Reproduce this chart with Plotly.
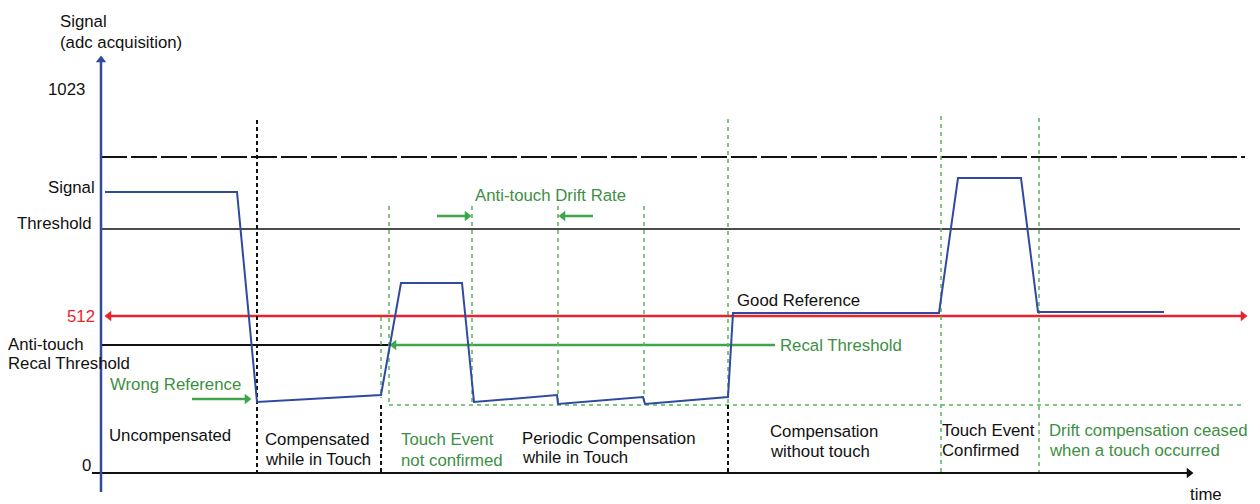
import plotly.graph_objects as go

# ---------------- data (diagram units = picture pixels, y downward) ----------------
sig_x = [105, 237, 257, 381, 401, 462, 474, 557, 558, 643, 645, 728, 733, 939, 958, 1021, 1038, 1164]
sig_y = [192, 192, 402, 395, 283, 283, 402, 395, 404, 397, 404, 397, 313, 313, 178, 178, 312, 312]

axis_x0 = 101          # signal axis position
axis_y0 = 473          # time axis (signal = 0)
level_max = 157        # dashed upper limit
level_threshold = 229  # touch threshold
level_512 = 316        # mid reference (512)
level_recal = 345      # anti-touch recal threshold
level_floor = 405      # wrong reference floor (green dashed)

# phase boundaries
bounds_x = [257, 381, 381, 389, 472, 558, 644, 728, 728, 941, 1039]
bounds_top = [120, 405, 317, 206, 206, 206, 206, 119, 405, 116, 118]
bounds_bot = [473, 473, 398, 405, 405, 405, 405, 405, 473, 473, 473]
bounds_kind = ["black", "black", "green", "green", "green", "green", "green", "green", "black", "green", "green"]

phase_labels = [
    ("Uncompensated", 108, 435, "black"),
    ("Compensated", 264, 439, "black"), ("while in Touch", 264, 459, "black"),
    ("Touch Event", 400, 439, "green"), ("not confirmed", 400, 460, "green"),
    ("Periodic Compensation", 521, 438, "black"), ("while in Touch", 521, 457, "black"),
    ("Compensation", 769, 431, "black"), ("without touch", 769, 451, "black"),
    ("Touch Event", 941, 430, "black"), ("Confirmed", 941, 450, "black"),
    ("Drift compensation ceased", 1048, 430, "green"), ("when a touch occurred", 1048, 450, "green"),
]
side_labels = [
    ("Signal", 59, 21, "black", "left"), ("(adc acquisition)", 59, 42, "black", "left"),
    ("1023", 47, 89, "black", "left"),
    ("Signal", 96, 187, "black", "right"),
    ("Threshold", 93, 223, "black", "right"),
    ("512", 96, 316, "red", "right"),
    ("Anti-touch", 7, 344, "black", "left"), ("Recal Threshold", 7, 363, "black", "left"),
    ("Wrong Reference", 109, 384, "green", "left"),
    ("Anti-touch Drift Rate", 474, 195, "green", "left"),
    ("Good Reference", 736, 300, "black", "left"),
    ("Recal Threshold", 779, 345, "green", "left"),
    ("0", 81, 465, "black", "left"),
    ("time", 1189, 494, "black", "left"),
]

# ---------------- styles ----------------
BLUE = "#2F4A9F"
RED = "#E8232B"
BLACK = "#111111"
GREEN = "#3FA54A"
GREEN_D = "#56B45A"
GREEN_T = "#3D8F44"
FONT = "Liberation Sans, Arial, sans-serif"
FS = 16.8
col = {"black": BLACK, "green": GREEN_T, "red": RED}

fig = go.Figure()


def seg(xs, ys, color, width, dash="solid"):
    fig.add_trace(go.Scatter(x=xs, y=ys, mode="lines",
                             line=dict(color=color, width=width, dash=dash),
                             hoverinfo="skip", showlegend=False))


def head(x, y, symbol, color, size):
    fig.add_trace(go.Scatter(x=[x], y=[y], mode="markers",
                             marker=dict(symbol=symbol, color=color, size=size, line=dict(width=0)),
                             hoverinfo="skip", showlegend=False))


# horizontal reference lines
seg([axis_x0, 1245], [level_max, level_max], BLACK, 2, "26px,4px")
seg([axis_x0, 1240], [level_threshold, level_threshold], BLACK, 1.5)
seg([109, 1243], [level_512, level_512], RED, 2.5)
head(109, level_512, "triangle-left", RED, 9)
head(1243, level_512, "triangle-right", RED, 9)
seg([axis_x0, 389], [level_recal, level_recal], BLACK, 2)
seg([394, 775], [level_recal, level_recal], GREEN, 2.5)
head(394, level_recal, "triangle-left", GREEN, 9)
seg([389, 1245], [level_floor, level_floor], GREEN_D, 1.5, "4px,4px")

# phase boundaries
for bx, bt, bb, k in zip(bounds_x, bounds_top, bounds_bot, bounds_kind):
    if k == "black":
        seg([bx, bx], [bt, bb], BLACK, 2, "4px,3px")
    else:
        seg([bx, bx], [bt, bb], GREEN_D, 1.5, "4px,4px")

# green pointer arrows
seg([192, 247], [399, 399], GREEN, 2.5)
head(247, 399, "triangle-right", GREEN, 9)
seg([437, 467], [216, 216], GREEN, 2.5)
head(467, 216, "triangle-right", GREEN, 9)
seg([593, 563], [216, 216], GREEN, 2.5)
head(563, 216, "triangle-left", GREEN, 9)

# time axis
seg([92, 1189], [axis_y0, axis_y0], BLACK, 2)
head(1189, axis_y0, "triangle-right", BLACK, 9)

# signal axis
seg([axis_x0, axis_x0], [492, 62], BLUE, 2.5)
head(axis_x0, 60, "triangle-up", BLUE, 9)

# signal trace
seg(sig_x, sig_y, BLUE, 2)

# texts
for t, x, y, c in phase_labels:
    fig.add_annotation(x=x, y=y, text=t, showarrow=False, xanchor="left", yanchor="middle",
                       borderpad=0, font=dict(family=FONT, size=FS, color=col[c]))
for t, x, y, c, a in side_labels:
    fig.add_annotation(x=x, y=y, text=t, showarrow=False, xanchor=a, yanchor="middle",
                       borderpad=0, font=dict(family=FONT, size=FS, color=col[c]))

fig.update_xaxes(range=[0, 1260], visible=False, showgrid=False, zeroline=False, fixedrange=True)
fig.update_yaxes(range=[504, 0], visible=False, showgrid=False, zeroline=False, fixedrange=True)
fig.update_layout(width=1260, height=504, margin=dict(l=0, r=0, t=0, b=0),
                  paper_bgcolor="white", plot_bgcolor="white", showlegend=False,
                  font=dict(family=FONT, size=FS))

fig.write_html("out.html", config={"displayModeBar": False},
               post_script="document.body.style.margin='0';document.body.style.overflow='hidden';")
